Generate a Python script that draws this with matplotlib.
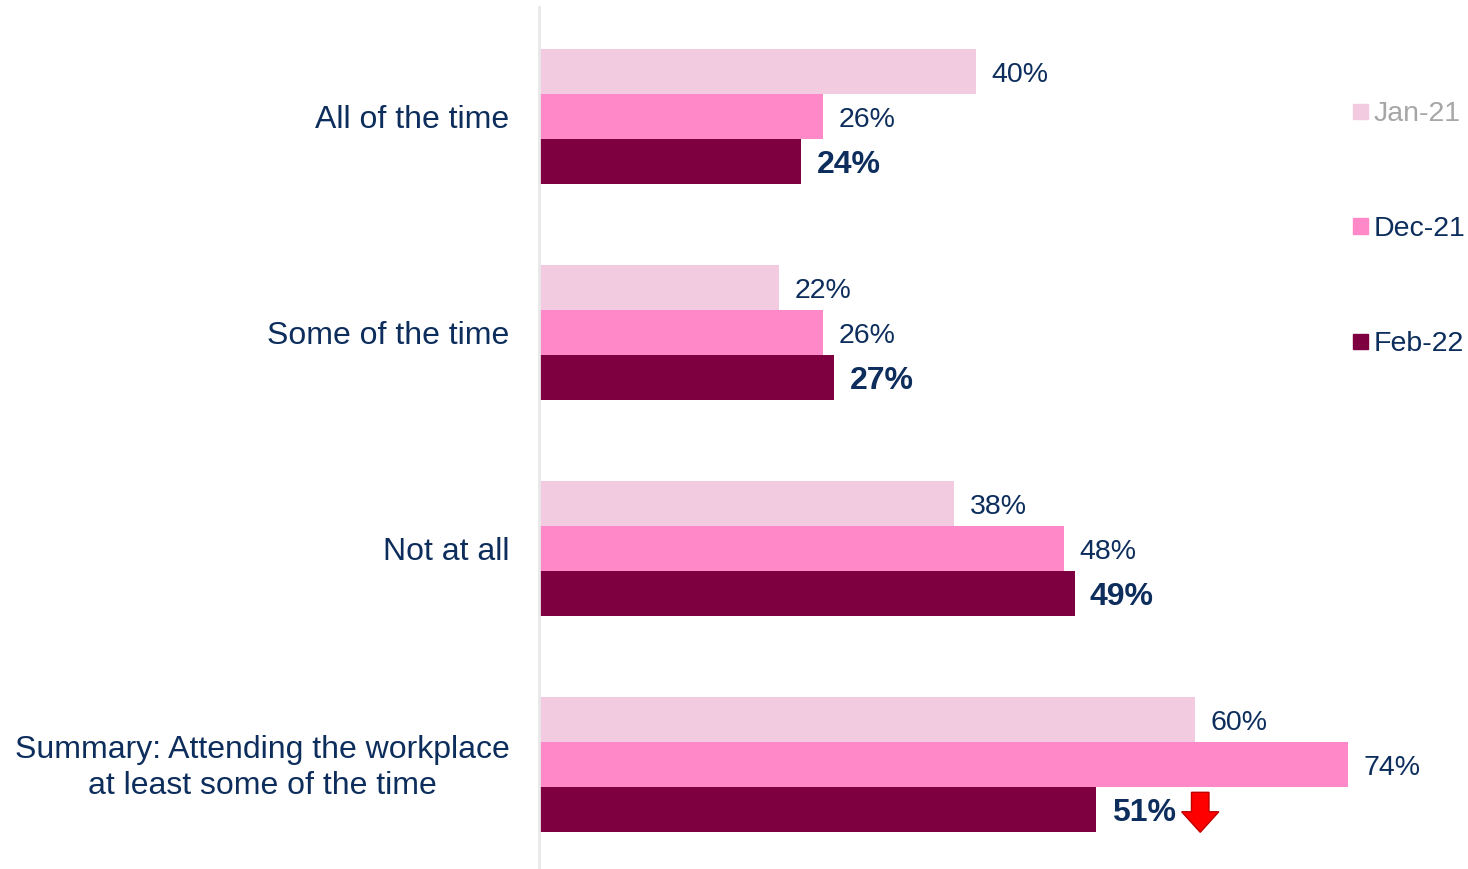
import matplotlib.pyplot as plt
import numpy as np
from matplotlib.patches import FancyArrow, Rectangle

plt.rcParams['font.family'] = ['Liberation Sans', 'DejaVu Sans']

categories = ["All of the time", "Some of the time", "Not at all",
              "Summary: Attending the workplace\nat least some of the time"]
waves = ["Jan-21", "Dec-21", "Feb-22"]
jan21 = [40, 22, 38, 60]
dec21 = [26, 26, 48, 74]
feb22 = [24, 27, 49, 51]
down_flags = [False, False, False, True]

colors = ["#f2cbe0", "#ff88c8", "#7f0041"]
legend_text_colors = ["#a6a6a6", "#0d2e5c", "#0d2e5c"]
navy = "#0d2e5c"

W, H = 1468, 870
fig = plt.figure(figsize=(W / 100, H / 100), dpi=100)
ax = fig.add_axes([539 / W, 0, 929 / W, 862 / H])

bar_h = 45 / 216.3
txt_dy = 0.012  # nudge text down so glyphs sit centred on the bars
series = [jan21, dec21, feb22]
y = np.arange(len(categories))
for i, (vals, col) in enumerate(zip(series, colors)):
    pos = y + (i - 1) * bar_h
    ax.barh(pos, vals, height=bar_h, color=col, label=waves[i])
    for p, v in zip(pos, vals):
        if i == 2:
            ax.text(v + 1.4, p + txt_dy, f"{v}%", va="center", ha="left",
                    fontsize=23, fontweight="bold", color=navy)
        else:
            ax.text(v + 1.4, p + txt_dy, f"{v}%", va="center", ha="left",
                    fontsize=20.5, color=navy)

# red arrow marking a significant drop
for yi, v, flag in zip(y, feb22, down_flags):
    if flag:
        top = yi + bar_h - 0.08
        ax.add_patch(FancyArrow(v + 9.5, top, 0, 0.185, width=1.6,
                                head_width=3.4, head_length=0.095,
                                length_includes_head=True,
                                facecolor="#ff0000", edgecolor="#c00000",
                                linewidth=1))

ax.set_xlim(0, 85)
ax.set_ylim(3.483, -0.507)
ax.set_xticks([])
ax.set_yticks([])
for s in ["top", "right", "bottom"]:
    ax.spines[s].set_visible(False)
ax.spines["left"].set_color("#e8e8e8")
ax.spines["left"].set_linewidth(2)

for yi, cat in zip(y, categories):
    ax.text(-2.7, yi + txt_dy, cat, ha="right", va="center",
            multialignment="center", fontsize=23, color=navy,
            linespacing=1.25)

# legend drawn by hand, one entry per wave
for k, (name, col, tcol) in enumerate(zip(waves, colors, legend_text_colors)):
    yc = 1 - (112 + 115 * k) / H
    fig.patches.append(Rectangle((1353 / W, yc - 7.5 / H), 15 / W, 15 / H,
                                 transform=fig.transFigure, color=col))
    fig.text(1374 / W, yc - 2 / H, name, ha="left", va="center",
             fontsize=20.5, color=tcol)

fig.savefig("out.png", dpi=100)
